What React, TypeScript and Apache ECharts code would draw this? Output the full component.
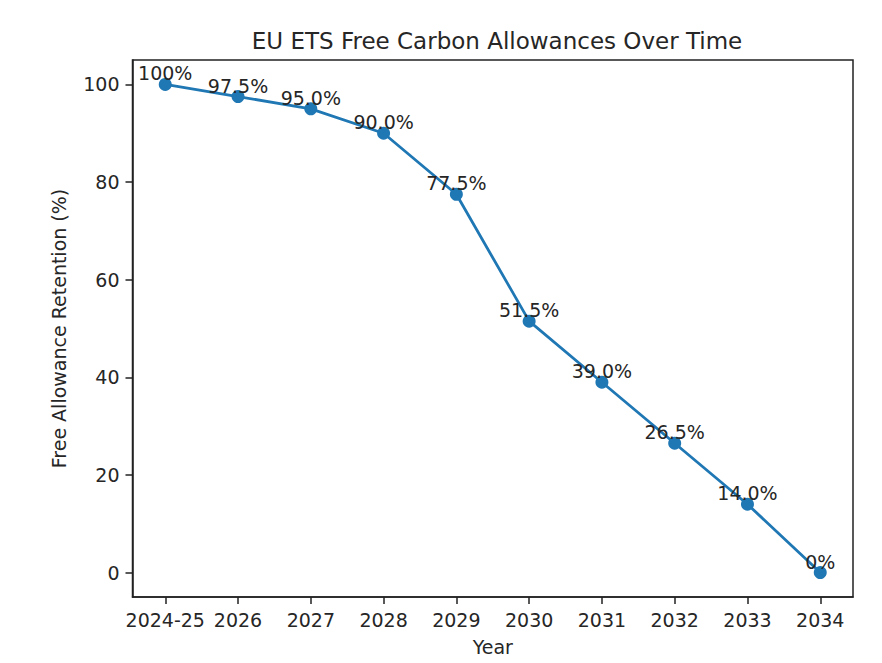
import React, { useEffect, useRef } from "react";
import * as echarts from "echarts";

const years = ["2024-25", "2026", "2027", "2028", "2029", "2030", "2031", "2032", "2033", "2034"];
const retention = [100, 97.5, 95.0, 90.0, 77.5, 51.5, 39.0, 26.5, 14.0, 0];
const pointLabels = ["100%", "97.5%", "95.0%", "90.0%", "77.5%", "51.5%", "39.0%", "26.5%", "14.0%", "0%"];
const yTicks = [0, 20, 40, 60, 80, 100];
const xTicks = years.map((_, i) => i);

const FONT = "DejaVu Sans";
const TEXT = "#262626";

export default function App() {
  const ref = useRef<HTMLDivElement>(null);
  useEffect(() => {
    if (!ref.current) return;
    const chart = echarts.init(ref.current, null, { renderer: "svg" });
    chart.setOption({
      animation: false,
      backgroundColor: "#fff",
      textStyle: { fontFamily: FONT },
      title: {
        text: "EU ETS Free Carbon Allowances Over Time",
        left: 492,
        textAlign: "center",
        top: 24,
        textStyle: { fontFamily: FONT, fontSize: 23, fontWeight: "normal", color: TEXT },
      },
      grid: { left: 132.5, right: 29, top: 60, bottom: 66, containLabel: false, show: true, borderColor: "#222", borderWidth: 1.5 },
      xAxis: {
        type: "value",
        min: -0.45,
        max: 9.45,
        name: "Year",
        nameLocation: "middle",
        nameGap: 40,
        nameTextStyle: { fontFamily: FONT, fontSize: 19, color: TEXT },
        axisLine: { show: true, onZero: false, lineStyle: { color: "#222", width: 1.5 } },
        axisTick: { show: true, inside: false, length: 7, lineStyle: { color: "#222", width: 1.5 }, customValues: xTicks },
        axisLabel: {
          customValues: xTicks,
          margin: 13,
          fontFamily: FONT,
          fontSize: 19,
          color: TEXT,
          formatter: (v: number) => years[Math.round(v)] ?? "",
        },
        splitLine: { show: false },
      },
      yAxis: {
        type: "value",
        min: -5,
        max: 105,
        name: "Free Allowance Retention (%)",
        nameLocation: "middle",
        nameGap: 64,
        nameTextStyle: { fontFamily: FONT, fontSize: 19, color: TEXT },
        axisLine: { show: true, onZero: false, lineStyle: { color: "#222", width: 1.5 } },
        axisTick: { show: true, inside: false, length: 7, lineStyle: { color: "#222", width: 1.5 }, customValues: yTicks },
        axisLabel: { customValues: yTicks, margin: 13, fontFamily: FONT, fontSize: 19, color: TEXT },
        splitLine: { show: false },
      },
      series: [
        {
          type: "line",
          data: retention.map((v, i) => [i, v]),
          symbol: "circle",
          symbolSize: 13,
          itemStyle: { color: "#1f77b4" },
          lineStyle: { color: "#1f77b4", width: 2.8 },
          label: {
            show: true,
            position: "top",
            distance: -5,
            fontFamily: FONT,
            fontSize: 19,
            color: TEXT,
            formatter: (p: any) => pointLabels[p.dataIndex],
          },
        },
      ],
    });
    return () => chart.dispose();
  }, []);
  return <div ref={ref} style={{ position: "fixed", left: 0, top: 0, width: 882, height: 663 }} />;
}
